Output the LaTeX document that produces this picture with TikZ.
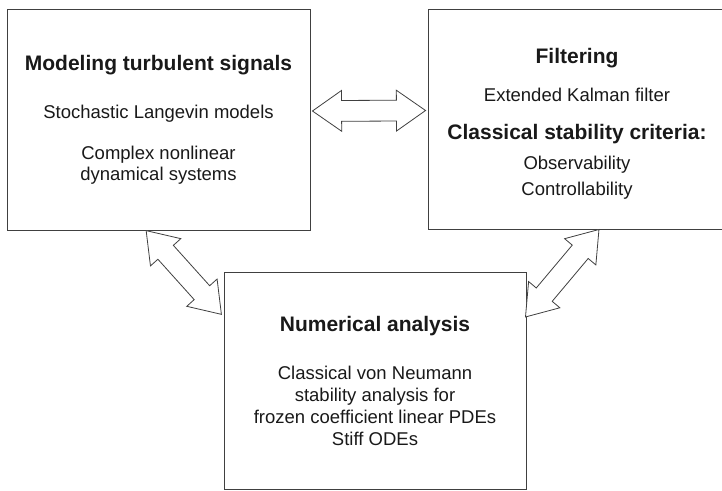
\documentclass[tikz,border=0pt]{standalone}
\usepackage{fontspec}
\setmainfont{Liberation Sans}
\usepackage{tikz}
\usetikzlibrary{calc, shapes.arrows}

\tikzset{
  topic/.style={draw=black!75, line width=0.9pt, inner sep=0pt},
  words/.style={align=center, inner sep=0pt,
    font=\fontsize{18.5}{22}\selectfont, text=black!90},
  bothway/.style={double arrow, draw=black!75, line width=0.8pt, fill=white,
    inner sep=10pt, minimum width=40pt, double arrow head extend=10pt,
    double arrow tip angle=70}
}
\newcommand{\headfont}{\fontsize{21}{24}\selectfont\bfseries}
% hollow two-headed arrow between two points
\newcommand{\linkboxes}[2]{%
  \path let \p1=($(#2)-(#1)$), \n1={veclen(\x1,\y1)}, \n2={atan2(\y1,\x1)} in
    node[bothway, minimum height=\n1, rotate=\n2] at ($(#1)!0.5!(#2)$) {};}

\begin{document}
\begin{tikzpicture}[x=1pt, y=-1pt]
    \useasboundingbox (0,0) rectangle (722,490);

    % Modeling
    \node[topic, minimum width=303pt, minimum height=221pt] (model) at (158.5,119.5) {};
    \node[words] (modeltext) at (model.center)
      {{\headfont Modeling turbulent signals}\\[26pt]
       Stochastic Langevin models\\[19pt]
       Complex nonlinear\\[-1pt] dynamical systems};

    % Filtering
    \node[topic, minimum width=298pt, minimum height=220pt] (filter) at (577,119) {};
    \node[words] (filtertext) at ([yshift=-5pt]filter.center)
      {{\headfont Filtering}\\[16pt]
       Extended Kalman filter\\[16pt]
       {\headfont Classical stability criteria:}\\[8pt]
       Observability\\[4pt] Controllability};

    % Numerical analysis
    \node[topic, minimum width=302pt, minimum height=217pt] (numer) at (375,380.5) {};
    \node[words] (numertext) at (numer.center)
      {{\headfont Numerical analysis}\\[26pt]
       Classical von Neumann\\ stability analysis for\\
       frozen coefficient linear PDEs\\ Stiff ODEs};

    % arrow ends
    \coordinate (mf1) at ([xshift=2pt, yshift=8.5pt]model.east);
    \coordinate (mf2) at ([xshift=-2pt, yshift=8.5pt]filter.west);
    \coordinate (mn1) at ([xshift=-12.5pt]model.south);
    \coordinate (mn2) at ([xshift=-2pt, yshift=66pt]numer.west);
    \coordinate (fn1) at ([xshift=22pt]filter.south);
    \coordinate (fn2) at ([xshift=-1pt, yshift=63.5pt]numer.east);

    \linkboxes{mf1}{mf2}
    \linkboxes{mn1}{mn2}
    \linkboxes{fn1}{fn2}
\end{tikzpicture}
\end{document}
